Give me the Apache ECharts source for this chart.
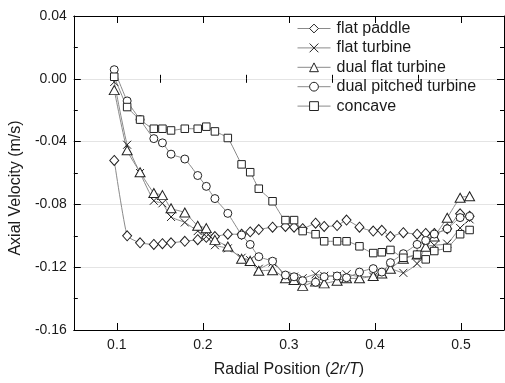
<!DOCTYPE html>
<html>
<head>
<meta charset="utf-8">
<script src="https://cdn.jsdelivr.net/npm/echarts@6/dist/echarts.min.js"></script>
<style>
  html, body { margin: 0; padding: 0; background: #fff; }
  #chart { width: 505px; height: 383px; }
</style>
</head>
<body>
<div id="chart"></div>
<script>
// Radial positions (2r/T) shared by all impeller profiles
const radialPos = [0.097, 0.112, 0.127, 0.143, 0.153, 0.163, 0.179, 0.194, 0.204, 0.214, 0.229,
  0.245, 0.255, 0.265, 0.281, 0.296, 0.306, 0.316, 0.331, 0.341, 0.356, 0.367, 0.382, 0.398,
  0.408, 0.418, 0.433, 0.449, 0.459, 0.469, 0.484, 0.499, 0.510];

// Axial velocity (m/s) for each impeller
const flatPaddle = [-0.052, -0.100, -0.1045, -0.1055, -0.105, -0.1045, -0.1035, -0.1025, -0.101, -0.1005, -0.099,
  -0.099, -0.0975, -0.096, -0.0945, -0.094, -0.0945, -0.0955, -0.092, -0.094, -0.0935, -0.090, -0.0945, -0.097,
  -0.0965, -0.1005, -0.098, -0.099, -0.0985, -0.0985, -0.0955, -0.086, -0.0875];
const flatTurbine = [-0.002, -0.042, -0.060, -0.0777, -0.0793, -0.088, -0.0915, -0.097, -0.1005, -0.106, -0.108,
  -0.114, -0.1155, -0.121, -0.117, -0.1255, -0.126, -0.127, -0.1245, -0.1255, -0.1255, -0.1245, -0.126, -0.126,
  -0.1235, -0.121, -0.1236, -0.1177, -0.107, -0.106, -0.105, -0.095, -0.0895];
const dualFlatTurbine = [-0.0072, -0.0455, -0.0595, -0.0727, -0.0741, -0.0825, -0.0852, -0.0936, -0.0951, -0.1026, -0.1068,
  -0.1146, -0.116, -0.1223, -0.1219, -0.1271, -0.1281, -0.1319, -0.1292, -0.1303, -0.1286, -0.1271, -0.1271, -0.1256,
  -0.124, -0.121, -0.1146, -0.112, -0.107, -0.1005, -0.0885, -0.0758, -0.0748];
const dualPitchedTurbine = [0.0058, -0.0141, -0.026, -0.0381, -0.0408, -0.048, -0.0511, -0.0616, -0.0685, -0.0763, -0.0857,
  -0.0995, -0.1055, -0.1133, -0.1162, -0.125, -0.1261, -0.1286, -0.1296, -0.1261, -0.1256, -0.1267, -0.1231, -0.1209,
  -0.1231, -0.1171, -0.1114, -0.1055, -0.103, -0.0989, -0.0955, -0.0884, -0.0876];
const concave = [0.0013, -0.018, -0.026, -0.0318, -0.0318, -0.0329, -0.0318, -0.0318, -0.0305, -0.0335, -0.0377,
  -0.0545, -0.0595, -0.070, -0.078, -0.090, -0.090, -0.097, -0.099, -0.1035, -0.1035, -0.1035, -0.1067, -0.111,
  -0.1105, -0.109, -0.114, -0.112, -0.115, -0.1097, -0.1077, -0.099, -0.0963];

// Tick positions
const xMajorTicks = [0.1, 0.2, 0.3, 0.4, 0.5];
const xMinorTicks = [0.15, 0.25, 0.35, 0.45];

const FONT = '"Liberation Sans", Arial, sans-serif';
const INK = '#1a1a1a';

const seriesDefs = [
  { name: 'flat paddle', values: flatPaddle, symbol: 'diamond', size: [9, 10] },
  { name: 'flat turbine', values: flatTurbine, symbol: 'path://M0,0L10,10M10,0L0,10', size: 8 },
  { name: 'dual flat turbine', values: dualFlatTurbine, symbol: 'triangle', size: [10, 9] },
  { name: 'dual pitched turbine', values: dualPitchedTurbine, symbol: 'circle', size: 8 },
  { name: 'concave', values: concave, symbol: 'rect', size: 7.5 }
];

const xBase = { type: 'value', min: 0.05, max: 0.55, interval: 0.05, gridIndex: 0,
  splitLine: { show: false }, axisLabel: { show: false } };

const option = {
  animation: false,
  backgroundColor: '#fff',
  textStyle: { fontFamily: FONT, color: INK },
  grid: { left: 70, top: 16, width: 434, height: 318, containLabel: false },
  legend: {
    orient: 'vertical',
    left: 292,
    top: 15.5,
    itemWidth: 33,
    itemHeight: 11,
    itemGap: 3.4,
    itemStyle: { color: '#ffffff', borderColor: '#222', borderWidth: 1 },
    lineStyle: { color: '#8a8a8a', width: 1 },
    textStyle: { fontFamily: FONT, fontSize: 16, color: INK, padding: [0, 0, 0, 1] },
    data: seriesDefs.map(s => s.name)
  },
  xAxis: [
    Object.assign({}, xBase, {
      position: 'bottom',
      name: 'Radial Position ({i|2r/T})',
      nameLocation: 'middle',
      nameGap: 32,
      nameTextStyle: { fontFamily: FONT, fontSize: 16, color: INK,
        rich: { i: { fontFamily: FONT, fontSize: 16, fontStyle: 'italic', color: INK } } },
      axisLine: { show: true, onZero: false, lineStyle: { color: '#000', width: 1 } },
      axisTick: { show: true, inside: true, length: 7, customValues: xMajorTicks, lineStyle: { color: '#000' } },
      axisLabel: { show: true, customValues: xMajorTicks, margin: 8, fontSize: 14, color: INK, fontFamily: FONT,
        formatter: v => v.toFixed(1) }
    }),
    Object.assign({}, xBase, {
      position: 'bottom',
      axisLine: { show: false },
      axisTick: { show: true, inside: true, length: 4, customValues: xMinorTicks, lineStyle: { color: '#000' } }
    }),
    Object.assign({}, xBase, {
      position: 'top',
      axisLine: { show: true, onZero: false, lineStyle: { color: '#000', width: 1 } },
      axisTick: { show: true, inside: true, length: 7, customValues: xMajorTicks, lineStyle: { color: '#000' } }
    }),
    Object.assign({}, xBase, {
      position: 'top',
      axisLine: { show: false },
      axisTick: { show: true, inside: true, length: 4, customValues: xMinorTicks, lineStyle: { color: '#000' } }
    })
  ],
  yAxis: [
    {
      type: 'value', min: -0.16, max: 0.04, interval: 0.04, position: 'left',
      name: 'Axial Velocity (m/s)',
      nameLocation: 'middle',
      nameGap: 37,
      nameTextStyle: { fontFamily: FONT, fontSize: 16, color: INK, padding: [0, 30, 0, 0] },
      axisLine: { show: true, onZero: false, lineStyle: { color: '#000', width: 1 } },
      axisTick: { show: true, inside: true, length: 7, lineStyle: { color: '#000' } },
      minorTick: { show: true, splitNumber: 2, length: 4, lineStyle: { color: '#000' } },
      axisLabel: { margin: 7, fontSize: 14, color: INK, fontFamily: FONT, formatter: v => v.toFixed(2) },
      splitLine: { show: true, lineStyle: { color: '#e4e4e4', width: 1 } }
    },
    {
      type: 'value', min: -0.16, max: 0.04, interval: 0.04, position: 'right',
      axisLine: { show: true, onZero: false, lineStyle: { color: '#000', width: 1 } },
      axisTick: { show: true, inside: true, length: 7, lineStyle: { color: '#000' } },
      minorTick: { show: true, splitNumber: 2, length: 4, lineStyle: { color: '#000' } },
      axisLabel: { show: false },
      splitLine: { show: false }
    }
  ],
  series: seriesDefs.map(s => ({
    name: s.name,
    type: 'line',
    xAxisIndex: 0,
    yAxisIndex: 0,
    data: radialPos.map((x, i) => [x, s.values[i]]),
    symbol: s.symbol,
    symbolSize: s.size,
    showAllSymbol: true,
    smooth: 0.15,
    lineStyle: { color: '#8a8a8a', width: 1 },
    itemStyle: { color: '#ffffff', borderColor: '#222', borderWidth: 1 },
    emphasis: { disabled: true }
  }))
};

const chart = echarts.init(document.getElementById('chart'), null, { renderer: 'canvas' });
chart.setOption(option);
</script>
</body>
</html>
